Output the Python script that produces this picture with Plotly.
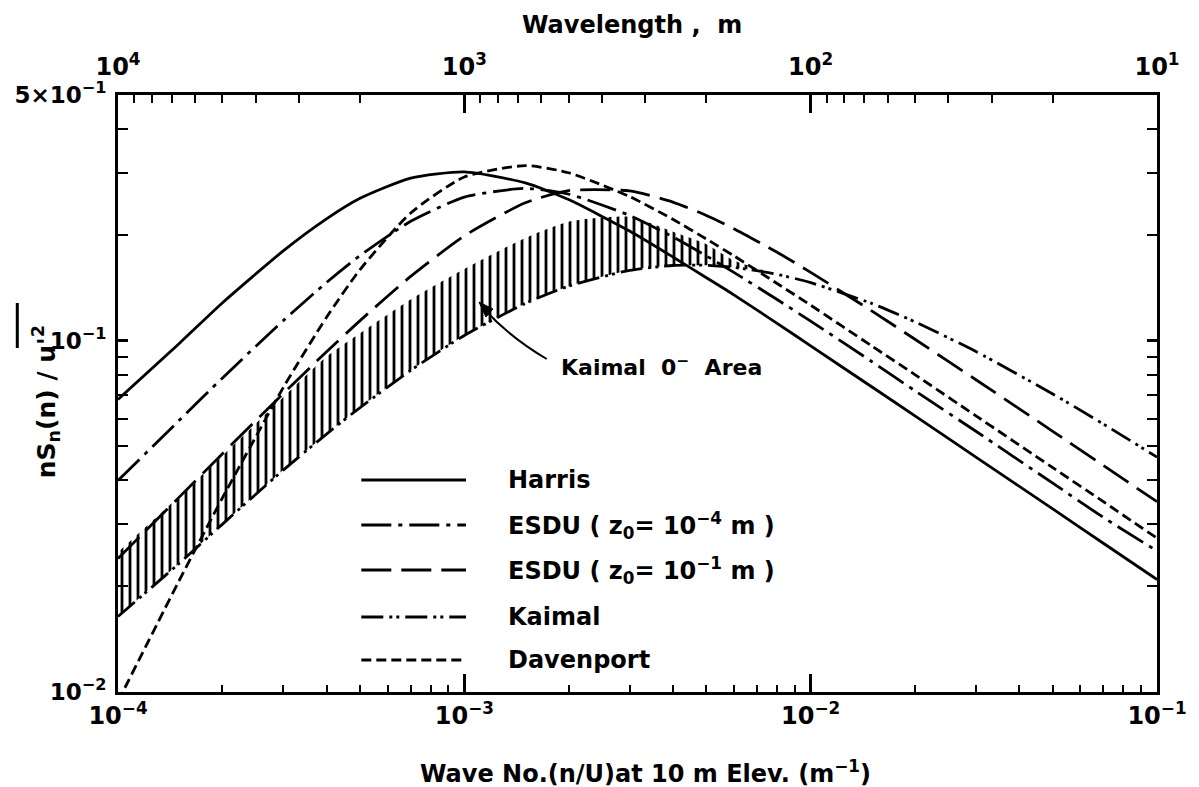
import plotly.graph_objects as go

# Wave number n/U at 10 m elevation, m^-1
WAVE_NUMBER = [1e-4, 1.5e-4, 2e-4, 3e-4, 4e-4, 5e-4, 7e-4, 1e-3, 1.5e-3, 2e-3, 3e-3,
               4e-3, 5e-3, 6e-3, 8e-3, 1e-2, 1.5e-2, 2e-2, 3e-2, 5e-2, 7e-2, 1e-1]

# Normalised spectra nS(n)/u'^2
HARRIS = [0.068, 0.098, 0.128, 0.180, 0.222, 0.254, 0.290, 0.302, 0.281, 0.252, 0.205,
          0.173, 0.151, 0.135, 0.112, 0.0966, 0.0739, 0.0611, 0.0466, 0.0332, 0.0265, 0.0209]
ESDU_Z0_1E_4 = [0.0400, 0.0592, 0.0782, 0.1140, 0.1463, 0.1746, 0.2185, 0.2561, 0.2712, 0.2612, 0.2271,
                0.1973, 0.1742, 0.1564, 0.1309, 0.1136, 0.0872, 0.0720, 0.0552, 0.0393, 0.0314, 0.0252]
ESDU_Z0_1E_1 = [0.0240, 0.0358, 0.0476, 0.0707, 0.0929, 0.1140, 0.1523, 0.1986, 0.2467, 0.2672, 0.2666,
                0.2479, 0.2271, 0.2083, 0.1784, 0.1564, 0.1215, 0.1009, 0.0774, 0.0552, 0.0441, 0.0348]
KAIMAL = [0.0164, 0.0232, 0.0300, 0.0428, 0.0542, 0.0645, 0.0823, 0.1034, 0.1276, 0.1429, 0.1585,
          0.1636, 0.1638, 0.1616, 0.1544, 0.1462, 0.1276, 0.1131, 0.0931, 0.0705, 0.0579, 0.0466]
DAVENPORT = [0.0094, 0.0207, 0.0356, 0.0735, 0.1165, 0.1593, 0.2308, 0.2922, 0.3148, 0.3004, 0.2570,
             0.2214, 0.1946, 0.1743, 0.1454, 0.1261, 0.0966, 0.0800, 0.0611, 0.0435, 0.0348, 0.0274]

# Upper edge of the Kaimal 0- band (lower edge is the Kaimal curve), first 15 wave numbers
KAIMAL_AREA_TOP = [0.0250, 0.0360, 0.0470, 0.0690, 0.0900, 0.1050, 0.1310, 0.1600, 0.1960, 0.2180,
                   0.2250, 0.2040, 0.1880, 0.1690, 0.1544]

X_TICKS = [1e-4, 1e-3, 1e-2, 1e-1]
X_TICK_TEXT = ["10<sup>−4</sup>", "10<sup>−3</sup>", "10<sup>−2</sup>", "10<sup>−1</sup>"]
Y_TICKS = [1e-2, 1e-1, 5e-1]
Y_TICK_TEXT = ["10<sup>−2</sup>", "10<sup>−1</sup>", "5×10<sup>−1</sup>"]
WAVELENGTH_TICKS = [1e4, 1e3, 1e2, 1e1]
WAVELENGTH_TICK_TEXT = ["10<sup>4</sup>", "10<sup>3</sup>", "10<sup>2</sup>", "10<sup>1</sup>"]

SERIES = [
    ("Harris", HARRIS, "solid"),
    ("ESDU ( z<sub>0</sub>= 10<sup>−4</sup> m )", ESDU_Z0_1E_4, "30px,7px,4px,7px"),
    ("ESDU ( z<sub>0</sub>= 10<sup>−1</sup> m )", ESDU_Z0_1E_1, "30px,10px"),
    ("Kaimal", KAIMAL, "22px,6px,3px,4px,3px,6px"),
    ("Davenport", DAVENPORT, "10px,5px"),
]

W, H = 1199, 787
LEFT, RIGHT, TOP, BOTTOM = 118, 1160, 95, 692
FONT = "DejaVu Sans"


def paper_x(px):
    return (px - LEFT) / (RIGHT - LEFT)


def paper_y(py):
    return (BOTTOM - py) / (BOTTOM - TOP)


fig = go.Figure()

# hatched Kaimal 0- band
n_area = len(KAIMAL_AREA_TOP)
area_x = WAVE_NUMBER[:n_area] + WAVE_NUMBER[:n_area][::-1]
area_y = KAIMAL_AREA_TOP + KAIMAL[:n_area][::-1]
fig.add_trace(go.Scatter(
    x=area_x, y=area_y, mode="lines", fill="toself",
    line=dict(width=0, color="rgba(0,0,0,0)", shape="spline", smoothing=0.6),
    fillcolor="white",
    fillpattern=dict(shape="|", size=8, solidity=0.35, fgcolor="black", fgopacity=1,
                     bgcolor="white", fillmode="replace"),
    hoverinfo="skip", showlegend=False,
))

for name, values, dash in SERIES:
    fig.add_trace(go.Scatter(
        x=WAVE_NUMBER, y=values, mode="lines", name=name,
        line=dict(color="black", width=2.8, dash=dash, shape="spline", smoothing=0.6),
        showlegend=False,
    ))

# carrier for the wavelength axis on top
fig.add_trace(go.Scatter(x=[1e4, 1e1], y=[0.1, 0.1], xaxis="x2", mode="markers",
                         marker=dict(opacity=0), hoverinfo="skip", showlegend=False))

minor_x = [m * 10.0 ** e for e in (-4, -3, -2) for m in range(2, 10)]
minor_y = [m * 10.0 ** e for e in (-2,) for m in range(2, 10)] + [0.2, 0.3, 0.4]
minor_wl = [m * 10.0 ** e for e in (1, 2, 3) for m in range(2, 10)]

axis_common = dict(
    type="log", showgrid=False, zeroline=False, showline=True, linecolor="black", linewidth=3,
    ticks="inside", tickcolor="black", tickwidth=2.5,
)
tick_font = dict(family=FONT, size=24, color="black", weight="bold")

fig.update_layout(
    width=W, height=H,
    margin=dict(l=LEFT, r=W - RIGHT, t=TOP, b=H - BOTTOM),
    paper_bgcolor="white", plot_bgcolor="white",
    font=dict(family=FONT, color="black", size=22, weight="bold"),
    xaxis=dict(**axis_common, range=[-4, -1], tickmode="array", tickvals=X_TICKS, ticktext=X_TICK_TEXT,
               ticklen=18, mirror=False, tickfont=tick_font,
               minor=dict(tickmode="array", tickvals=minor_x, ticks="inside", ticklen=7, tickwidth=2,
                          tickcolor="black")),
    xaxis2=dict(**axis_common, range=[4, 1], overlaying="x", side="top", anchor="y",
                tickmode="array", tickvals=WAVELENGTH_TICKS, ticktext=WAVELENGTH_TICK_TEXT, ticklen=18,
                ticklabelstandoff=7, tickfont=tick_font,
                minor=dict(tickmode="array", tickvals=minor_wl, ticks="inside", ticklen=8, tickwidth=2,
                           tickcolor="black")),
    yaxis=dict(**axis_common, range=[-2, -0.30103], tickmode="array", tickvals=Y_TICKS, ticktext=Y_TICK_TEXT,
               ticklen=10, mirror="ticks", ticklabelstandoff=4,
               tickfont=dict(family=FONT, size=23, color="black", weight="bold"),
               minor=dict(tickmode="array", tickvals=minor_y, ticks="inside", ticklen=10, tickwidth=2,
                          tickcolor="black")),
)

annotations = []
shapes = []

# axis titles
annotations.append(dict(x=paper_x(647), y=paper_y(772), xref="paper", yref="paper",
                        text="Wave No.(n/U)at 10 m Elev. (m<sup>−1</sup>)", showarrow=False,
                        font=dict(size=24), xanchor="center", yanchor="middle"))
annotations.append(dict(x=paper_x(633), y=paper_y(25), xref="paper", yref="paper",
                        text="Wavelength ,  m", showarrow=False,
                        font=dict(size=24), xanchor="center", yanchor="middle"))
annotations.append(dict(x=paper_x(46), y=paper_y(402), xref="paper", yref="paper",
                        text="nS<sub>n</sub>(n) / u'<sup>2</sup>", showarrow=False, textangle=-90,
                        font=dict(size=25), xanchor="center", yanchor="middle"))
shapes.append(dict(type="line", xref="paper", yref="paper",
                   x0=paper_x(17), x1=paper_x(17), y0=paper_y(348), y1=paper_y(303),
                   line=dict(color="black", width=3)))

# key drawn inside the plot
key_rows = [480, 525, 570, 617, 660]
for (name, _, dash), row in zip(SERIES, key_rows):
    shapes.append(dict(type="line", xref="paper", yref="paper",
                       x0=paper_x(362), x1=paper_x(467), y0=paper_y(row), y1=paper_y(row),
                       line=dict(color="black", width=2.8, dash=dash)))
    annotations.append(dict(x=paper_x(507), y=paper_y(row), xref="paper", yref="paper", text=name,
                            showarrow=False, xanchor="left", yanchor="middle", font=dict(size=24)))

# label for the hatched band with a curved leader
annotations.append(dict(x=paper_x(560), y=paper_y(366), xref="paper", yref="paper",
                        text="Kaimal  0<sup>−</sup>  Area", showarrow=False, xanchor="left",
                        yanchor="middle", font=dict(size=22)))
shapes.append(dict(type="path", xref="paper", yref="paper",
                   path=f"M {paper_x(548)},{paper_y(359)} Q {paper_x(512)},{paper_y(338)} "
                        f"{paper_x(486)},{paper_y(310)}",
                   line=dict(color="black", width=2)))
shapes.append(dict(type="path", xref="paper", yref="paper",
                   path=f"M {paper_x(480)},{paper_y(302)} L {paper_x(494)},{paper_y(309)} "
                        f"L {paper_x(487)},{paper_y(317)} Z",
                   fillcolor="black", line=dict(color="black", width=1)))

fig.update_layout(annotations=annotations, shapes=shapes)

fig.write_html("out.html")
